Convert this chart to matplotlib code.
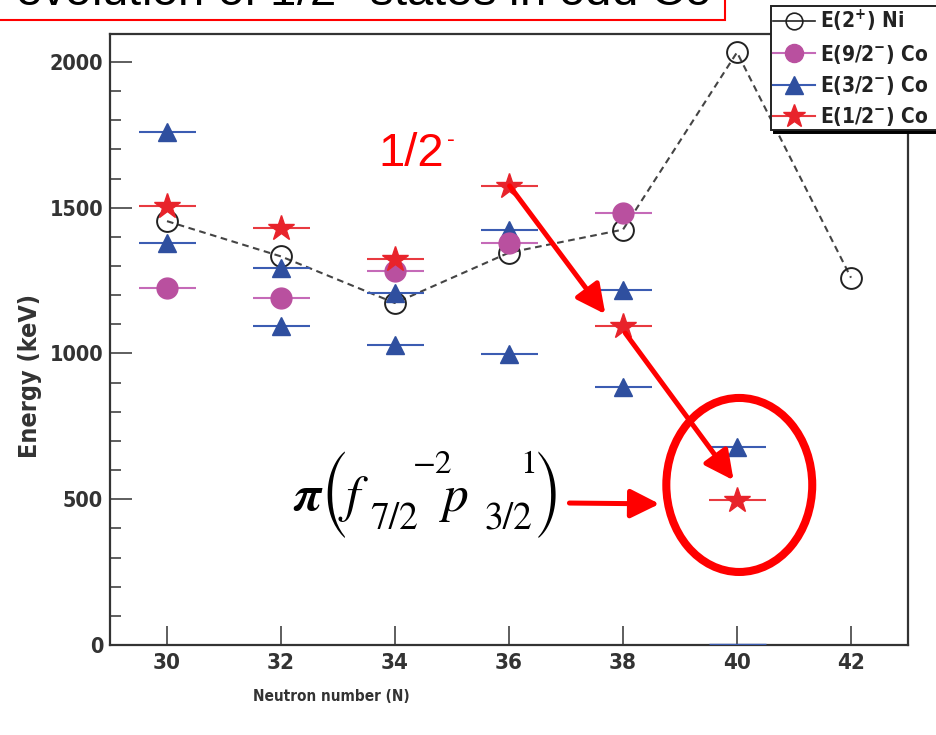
import os
import matplotlib
matplotlib.use("Agg")
import matplotlib.pyplot as plt
from matplotlib import font_manager
from matplotlib.font_manager import FontProperties
from matplotlib.lines import Line2D
from matplotlib.patches import Ellipse, Rectangle, FancyArrowPatch

# ---- level energies (keV) versus neutron number ----
n_ni = [30, 32, 34, 36, 38, 40, 42]
e_ni_2plus = [1454, 1333, 1173, 1346, 1425, 2033, 1260]

n_co_92 = [30, 32, 34, 36, 38]
e_co_92 = [1225, 1190, 1283, 1379, 1482]

n_co_32 = [30, 30, 32, 32, 34, 34, 36, 36, 38, 38, 40]
e_co_32 = [1760, 1379, 1293, 1094, 1207, 1029, 1424, 998, 1218, 885, 679]

n_co_32_ground = [40]
e_co_32_ground = [0]

n_co_12 = [30, 32, 34, 36, 38, 40]
e_co_12 = [1506, 1431, 1324, 1575, 1094, 497]

x_ticks = [30, 32, 34, 36, 38, 40, 42]
y_ticks = [0, 500, 1000, 1500, 2000]
legend_labels = [r"E(2$^{\mathregular{+}}$) Ni", r"E(9/2$^{\mathregular{-}}$) Co",
                 r"E(3/2$^{\mathregular{-}}$) Co", r"E(1/2$^{\mathregular{-}}$) Co"]

avail = {f.name for f in font_manager.fontManager.ttflist}
plain = "Liberation Sans" if "Liberation Sans" in avail else "DejaVu Sans"


def condensed_bold_file():
    """Return the path of a bold condensed/narrow sans face, if one is installed."""
    for f in font_manager.fontManager.ttflist:
        narrowish = ("Narrow" in f.name or "Condensed" in f.name
                     or str(f.stretch) in ("condensed", "semi-condensed", "extra-condensed"))
        if narrowish and f.weight in (700, "bold") and "Mono" not in f.name and "Serif" not in f.name:
            return f.fname
    return None


cond_file = condensed_bold_file()


def label_font(size_cond, size_plain):
    if cond_file:
        return FontProperties(fname=cond_file, size=size_cond)
    return FontProperties(family=plain, weight="bold", size=size_plain)


ink = "#333333"
c_blue, c_blue_bar = "#2f4f9f", "#3b5cb2"
c_mag, c_mag_bar = "#b9509f", "#c56ab8"
c_red, c_red_bar = "#e8232b", "#e83a40"

fig = plt.figure(figsize=(9.36, 7.35), dpi=100)
ax = fig.add_axes([110 / 936, 1 - 645 / 735, 798 / 936, 611 / 735])
ax.set_xlim(29, 43)
ax.set_ylim(0, 2096)

bar_kw = dict(xerr=0.5, capsize=0, elinewidth=1.5, linestyle="none")

# Ni 2+ systematics: dashed guide plus open circles
ax.plot(n_ni, e_ni_2plus, linestyle=(0, (3.2, 2.2)), color="#444444", lw=1.5, zorder=2)
ax.plot(n_ni, e_ni_2plus, linestyle="none", marker="o", ms=15, mfc="none",
        mec="#222222", mew=1.4, zorder=3)

ax.errorbar(n_co_32, e_co_32, fmt="^", ms=13, color=c_blue, ecolor=c_blue_bar, zorder=4, **bar_kw)
ax.errorbar(n_co_32_ground, e_co_32_ground, fmt="none", ecolor=c_blue_bar, zorder=4,
            xerr=0.5, capsize=0, elinewidth=2.5)
ax.errorbar(n_co_92, e_co_92, fmt="o", ms=15, color=c_mag, ecolor=c_mag_bar, zorder=4, **bar_kw)
ax.errorbar(n_co_12, e_co_12, fmt="*", ms=19, color=c_red, ecolor=c_red_bar, zorder=5, **bar_kw)

# axes styling
for side in ["left", "bottom", "top", "right"]:
    ax.spines[side].set_linewidth(1.6)
    ax.spines[side].set_color(ink)
ax.set_xticks(x_ticks)
ax.set_yticks(y_ticks)
ax.set_yticks(range(0, 2100, 100), minor=True)
ax.tick_params(axis="x", which="major", direction="in", length=14, width=1.1, color=ink,
               pad=6, labelcolor=ink, top=False)
ax.tick_params(axis="y", which="major", direction="in", length=16, width=1.1, color=ink,
               pad=5, labelcolor=ink, right=False)
ax.tick_params(axis="y", which="minor", direction="in", length=8, width=1.1, color=ink, right=False)
for lab in ax.get_xticklabels():
    lab.set_fontproperties(label_font(16, 14))
for lab in ax.get_yticklabels():
    lab.set_fontproperties(label_font(15.5, 14))

ax.set_xlabel("Neutron number (N)", color=ink, fontproperties=label_font(11, 10),
              va="top")
ax.xaxis.set_label_coords(0.277, -0.072)
ax.set_ylabel("Energy (keV)", color=ink, fontproperties=label_font(18, 17))
ax.yaxis.set_label_coords(-0.085, 0.44)

# legend
handles = [
    Line2D([], [], color="#222222", lw=1.2, marker="o", ms=12, mfc="none", mec="#222222", mew=1.2),
    Line2D([], [], color=c_mag_bar, lw=1.5, marker="o", ms=13, mfc=c_mag, mec=c_mag),
    Line2D([], [], color=c_blue_bar, lw=1.5, marker="^", ms=13, mfc=c_blue, mec=c_blue),
    Line2D([], [], color=c_red_bar, lw=1.5, marker="*", ms=17, mfc=c_red, mec=c_red),
]
leg = ax.legend(handles, legend_labels, loc="upper left", mode="expand",
                bbox_to_anchor=(771 / 936, 1 - 6 / 735, 0.2, 0), bbox_transform=fig.transFigure,
                frameon=True, fancybox=False, framealpha=1, edgecolor="#222222",
                borderpad=0.1, labelspacing=0.4, handlelength=2.0, handletextpad=0.25,
                borderaxespad=0, shadow={"color": "black", "alpha": 1},
                prop=label_font(15, 14))
leg.get_frame().set_linewidth(1.4)
for t in leg.get_texts():
    t.set_color("#222222")

# annotations on the 1/2- systematics
ax.text(33.70, 1643, "1/2", color="red", fontsize=34, family=plain, ha="left", va="baseline")
ax.text(34.92, 1712, "-", color="red", fontsize=17, family=plain, ha="left", va="baseline")

arrow_kw = dict(arrowstyle="-|>,head_length=1.1,head_width=0.55", mutation_scale=16,
                color="red", lw=3.6, shrinkA=0, shrinkB=0, zorder=6)
ax.add_patch(FancyArrowPatch((36.01, 1575), (37.69, 1135), **arrow_kw))
ax.add_patch(FancyArrowPatch((38.04, 1070), (39.94, 565), **arrow_kw))
ax.add_patch(FancyArrowPatch((37.06, 487), (38.64, 484), **arrow_kw))

ax.add_patch(Ellipse((40.04, 549), 2.56, 597, fill=False, edgecolor="red", lw=5.8, zorder=6))


# configuration label pi(f7/2^-2 p3/2^1), set piece by piece in pixel positions
def px_to_data(px, py):
    return 30 + (px - 167) / 57.08, (645 - py) / 0.2915


stix_dir = os.path.join(matplotlib.get_data_path(), "fonts", "ttf")
tall_paren = FontProperties(fname=os.path.join(stix_dir, "STIXSizTwoSymReg.ttf"), size=34)
f_bi = dict(family="STIXGeneral", style="italic", weight="bold")
f_it = dict(family="STIXGeneral", style="italic")
f_rm = dict(family="STIXGeneral")
pieces = [
    ("\u03c0", 293, 510, 36, f_bi),
    ("f", 346, 511, 37, f_it),
    ("7/2", 371, 529, 27, f_rm),
    ("\u22122", 413, 473, 24, f_rm),
    ("p", 443, 511, 37, f_it),
    ("3/2", 485, 529, 27, f_rm),
    ("1", 521, 473, 24, f_rm),
]
for s, px, py, size, style in pieces:
    xd, yd = px_to_data(px, py)
    ax.text(xd, yd, s, fontsize=size, ha="left", va="baseline", color="black", **style)
for s, px in [("(", 335), (")", 547)]:
    xd, yd = px_to_data(px, 495)
    ax.text(xd, yd, s, fontproperties=tall_paren, ha="center", va="center", color="black")

# heading box at the top edge
fig.patches.append(Rectangle((-0.02, 1 - 20 / 735), 0.02 + 725 / 936, 0.2, fill=False,
                             edgecolor="red", lw=1.5, transform=fig.transFigure, figure=fig))
fig.text(15 / 936, 1 - 5 / 735, r"evolution of 1/2$^{\mathregular{-}}$ states in odd Co",
         fontsize=34, family=plain, ha="left", va="baseline", color="black")

fig.savefig("out.png", dpi=100)
